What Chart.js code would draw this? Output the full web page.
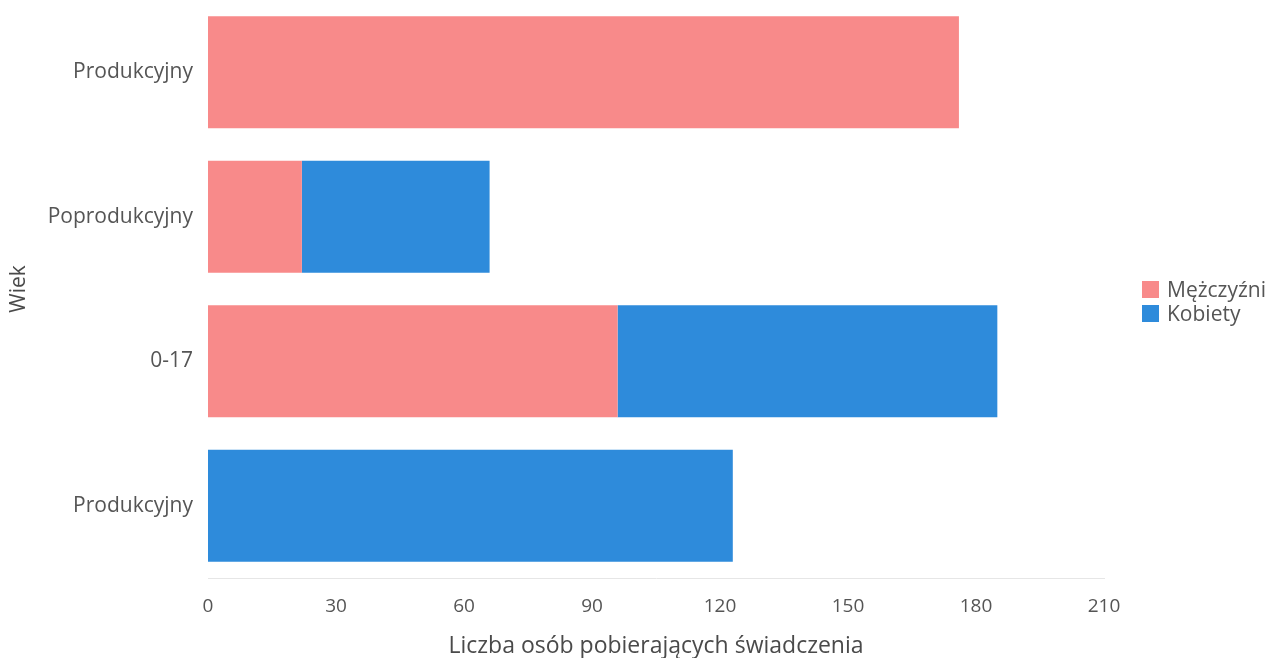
<!DOCTYPE html>
<html><head><meta charset="utf-8">
<script src="https://cdn.jsdelivr.net/npm/chart.js@4/dist/chart.umd.min.js"></script>
<style>
html,body{margin:0;padding:0;background:#fff;}
#wrap{position:relative;width:1275px;height:658px;}
#legend{position:absolute;left:1142px;top:277px;font-family:"Open Sans",sans-serif;font-size:21px;color:#555;line-height:24px;}
#legend div{display:flex;align-items:center;}
#legend span.sw{display:inline-block;width:17px;height:17px;margin-right:8px;}
</style></head>
<body><div id="wrap"><canvas id="c" width="1275" height="658"></canvas>
<div id="legend"><div><span class="sw" style="background:#F88A8A"></span>Mężczyźni</div><div><span class="sw" style="background:#2E8BDB"></span>Kobiety</div></div></div>
<script>
const categories = ['Produkcyjny','Poprodukcyjny','0-17','Produkcyjny'];
const menValues = [176, 22, 96, null];
const womenValues = [null, 44, 89, 123];
const xTicks = [0,30,60,90,120,150,180,210];

new Chart(document.getElementById('c'), {
  type: 'bar',
  data: {
    labels: categories,
    datasets: [
      {label:'Mężczyźni', data: menValues, backgroundColor:'#F88A8A', barPercentage:0.775, categoryPercentage:1},
      {label:'Kobiety', data: womenValues, backgroundColor:'#2E8BDB', barPercentage:0.775, categoryPercentage:1}
    ]
  },
  options: {
    indexAxis: 'y',
    responsive: false,
    animation: false,
    layout: {padding: {left:0, right:171, top:0, bottom:0}},
    plugins: {legend:{display:false}, tooltip:{enabled:false}},
    scales: {
      x: {
        stacked: true, min: 0, max: 210,
        afterBuildTicks: s => { s.ticks = xTicks.map(v => ({value:v})); },
        afterFit: s => { s.height = 80; s.paddingLeft = 0; s.paddingRight = 0; },
        grid: {display:false},
        border: {display:true, color:'#e6e6e6', width:1},
        ticks: {color:'#555', font:{family:'Open Sans', size:19}, padding:9},
        title: {display:true, text:'Liczba osób pobierających świadczenia', color:'#4a4a4a', font:{family:'Open Sans', size:23}, padding:{top:4, bottom:-2}}
      },
      y: {
        stacked: true,
        afterFit: s => { s.width = 208; s.paddingTop = 0; s.paddingBottom = 0; },
        grid: {display:false},
        border: {display:false},
        ticks: {color:'#555', font:{family:'Open Sans', size:21}, padding:7},
        title: {display:true, text:'Wiek', color:'#4a4a4a', font:{family:'Open Sans', size:21}, padding:{bottom:0, top:6}}
      }
    }
  }
});
</script></body></html>
